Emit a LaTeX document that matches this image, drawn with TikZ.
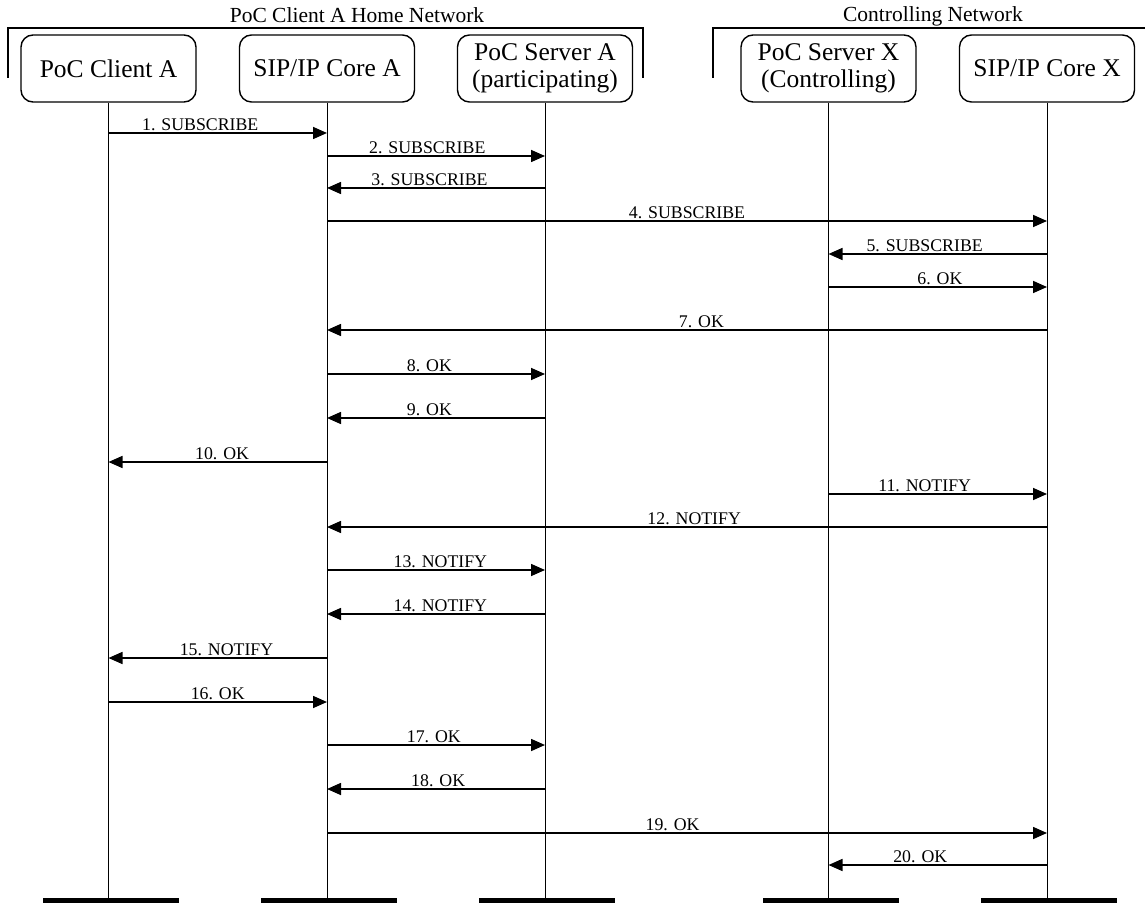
\documentclass[tikz,border=0pt]{standalone}
\usepackage{fontspec}
\setmainfont{Liberation Serif}
\usepackage{tikz}
\usetikzlibrary{arrows.meta,positioning}

\begin{document}
\begin{tikzpicture}[
    x=0.5pt, y=-0.5pt,
    entity/.style={rectangle, rounded corners=6pt, draw, line width=0.7pt,
                   minimum width=87.5pt, minimum height=33.5pt, align=center,
                   inner sep=0pt, font=\fontsize{12.75}{13.2}\selectfont},
    lifeline/.style={line width=0.5pt},
    bar/.style={rectangle, fill=black, minimum width=68pt, minimum height=2.5pt,
                inner sep=0pt, anchor=north, xshift=1pt},
    msg/.style={line width=0.8pt, -{Triangle[length=7pt,width=6pt]}},
    lbl/.style={font=\fontsize{8.9}{10}\selectfont, inner sep=0.8pt, above},
    netname/.style={font=\fontsize{10.75}{12}\selectfont, anchor=base},
    bracket/.style={line width=0.7pt}
]
    \useasboundingbox (0,0) rectangle (1145,903);
    % network brackets
    \node[netname] (homenet) at (357,23) {PoC Client A Home Network};
    \node[netname] (ctrlnet) at (933,22) {Controlling Network};
    \draw[bracket] (8,78) -- (8,28) -- (643,28) -- (643,78);
    \draw[bracket] (713,78) -- (713,28) -- (1145,28);
    % entities
    \node[entity] (ca) at (108.5,68.5) {PoC Client A};
    \node[entity] (ia) at (327,68.5) {SIP/IP Core A};
    \node[entity] (sa) at (545,68.5) {PoC Server A\\(participating)};
    \node[entity] (sx) at (828.5,68.5) {PoC Server X\\(Controlling)};
    \node[entity] (ix) at (1047,68.5) {SIP/IP Core X};
    % lifelines and end bars
    \coordinate (bot) at (0,898);
    \node[bar] (cab) at (ca |- bot) {};
    \node[bar] (iab) at (ia |- bot) {};
    \node[bar] (sab) at (sa |- bot) {};
    \node[bar] (sxb) at (sx |- bot) {};
    \node[bar] (ixb) at (ix |- bot) {};
    \draw[lifeline] (ca.south) -- (ca.south |- cab.north);
    \draw[lifeline] (ia.south) -- (ia.south |- iab.north);
    \draw[lifeline] (sa.south) -- (sa.south |- sab.north);
    \draw[lifeline] (sx.south) -- (sx.south |- sxb.north);
    \draw[lifeline] (ix.south) -- (ix.south |- ixb.north);
    % message rows
    \coordinate (m1) at (0,133);
    \coordinate (m2) at (0,156);
    \coordinate (m3) at (0,188);
    \coordinate (m4) at (0,221);
    \coordinate (m5) at (0,254);
    \coordinate (m6) at (0,287);
    \coordinate (m7) at (0,330);
    \coordinate (m8) at (0,374);
    \coordinate (m9) at (0,418);
    \coordinate (m10) at (0,462);
    \coordinate (m11) at (0,494);
    \coordinate (m12) at (0,527);
    \coordinate (m13) at (0,570);
    \coordinate (m14) at (0,614);
    \coordinate (m15) at (0,658);
    \coordinate (m16) at (0,702);
    \coordinate (m17) at (0,745);
    \coordinate (m18) at (0,789);
    \coordinate (m19) at (0,833);
    \coordinate (m20) at (0,865);
    % messages
    \draw[msg] (ca |- m1) -- (ia |- m1) node[lbl, pos=0.42] {1. SUBSCRIBE};
    \draw[msg] (ia |- m2) -- (sa |- m2) node[lbl, pos=0.46] {2. SUBSCRIBE};
    \draw[msg] (sa |- m3) -- (ia |- m3) node[lbl, pos=0.53] {3. SUBSCRIBE};
    \draw[msg] (ia |- m4) -- (ix |- m4) node[lbl, pos=0.50] {4. SUBSCRIBE};
    \draw[msg] (ix |- m5) -- (sx |- m5) node[lbl, pos=0.56] {5. SUBSCRIBE};
    \draw[msg] (sx |- m6) -- (ix |- m6) node[lbl, pos=0.51] {6. OK};
    \draw[msg] (ix |- m7) -- (ia |- m7) node[lbl, pos=0.48] {7. OK};
    \draw[msg] (ia |- m8) -- (sa |- m8) node[lbl, pos=0.47] {8. OK};
    \draw[msg] (sa |- m9) -- (ia |- m9) node[lbl, pos=0.53] {9. OK};
    \draw[msg] (ia |- m10) -- (ca |- m10) node[lbl, pos=0.48] {10. OK};
    \draw[msg] (sx |- m11) -- (ix |- m11) node[lbl, pos=0.44] {11. NOTIFY};
    \draw[msg] (ix |- m12) -- (ia |- m12) node[lbl, pos=0.49] {12. NOTIFY};
    \draw[msg] (ia |- m13) -- (sa |- m13) node[lbl, pos=0.52] {13. NOTIFY};
    \draw[msg] (sa |- m14) -- (ia |- m14) node[lbl, pos=0.48] {14. NOTIFY};
    \draw[msg] (ia |- m15) -- (ca |- m15) node[lbl, pos=0.46] {15. NOTIFY};
    \draw[msg] (ca |- m16) -- (ia |- m16) node[lbl, pos=0.50] {16. OK};
    \draw[msg] (ia |- m17) -- (sa |- m17) node[lbl, pos=0.49] {17. OK};
    \draw[msg] (sa |- m18) -- (ia |- m18) node[lbl, pos=0.49] {18. OK};
    \draw[msg] (ia |- m19) -- (ix |- m19) node[lbl, pos=0.48] {19. OK};
    \draw[msg] (ix |- m20) -- (sx |- m20) node[lbl, pos=0.58] {20. OK};
\end{tikzpicture}
\end{document}
